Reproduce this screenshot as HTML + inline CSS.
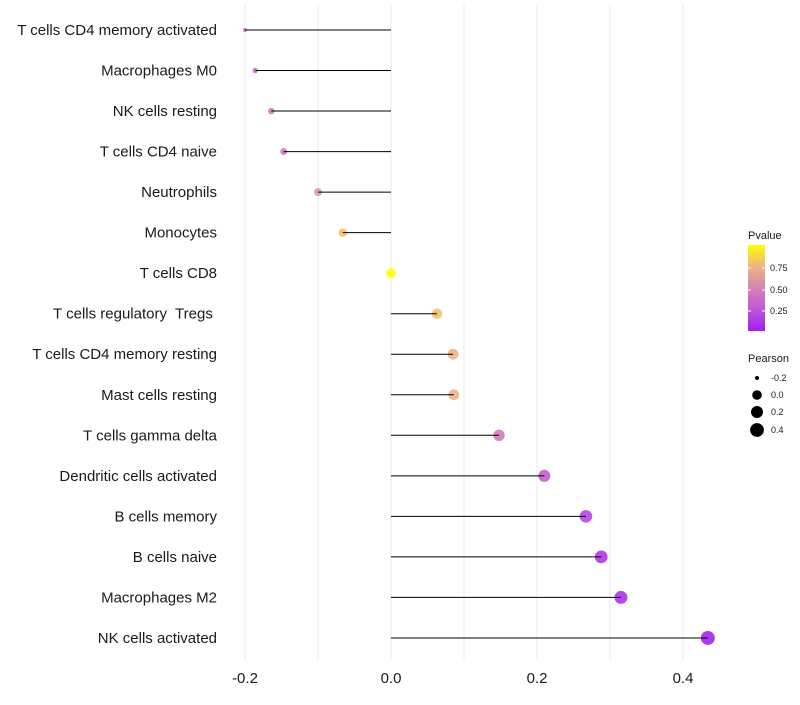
<!DOCTYPE html>
<html><head><meta charset="utf-8"><style>
body{margin:0;background:#fff;}
svg text{font-family:"Liberation Sans",sans-serif;}
</style></head><body>
<svg id="chart" width="800" height="700" xmlns="http://www.w3.org/2000/svg">
<defs><linearGradient id="pg" x1="0" y1="1" x2="0" y2="0">
<stop offset="0" stop-color="#A020F0"/><stop offset="0.25" stop-color="#C055D8"/><stop offset="0.5" stop-color="#D584B4"/><stop offset="0.75" stop-color="#EEB483"/><stop offset="1" stop-color="#FFFF00"/></linearGradient></defs>
<g id="grid"></g><g id="marks"></g><g id="labels"></g><g id="legend"></g>
</svg>
<script>
const categories=["T cells CD4 memory activated","Macrophages M0","NK cells resting","T cells CD4 naive","Neutrophils","Monocytes","T cells CD8","T cells regulatory  Tregs ","T cells CD4 memory resting","Mast cells resting","T cells gamma delta","Dendritic cells activated","B cells memory","B cells naive","Macrophages M2","NK cells activated"];
const pearson=[-0.2,-0.186,-0.164,-0.147,-0.100,-0.066,0.0,0.063,0.085,0.086,0.148,0.210,0.267,0.288,0.315,0.434];
const pvalues=[0.40,0.42,0.45,0.45,0.62,0.80,1.0,0.80,0.74,0.74,0.45,0.30,0.18,0.12,0.10,0.02];
const xTicks=[-0.2,0,0.2,0.4];
const xTickLabels=["-0.2","0.0","0.2","0.4"];
const NS="http://www.w3.org/2000/svg";
const x=v=>391+v*730;
const y=i=>30+i*40.53;
const r=v=>2+5*Math.sqrt(Math.max(0,(v+0.2)/0.634));
const stops=[[0,[160,32,240]],[0.25,[192,85,216]],[0.5,[213,132,180]],[0.75,[238,180,131]],[1,[255,255,0]]];
function col(p){p=Math.max(0,Math.min(1,p));for(let k=1;k<stops.length;k++){if(p<=stops[k][0]){const a=stops[k-1],b=stops[k],t=(p-a[0])/(b[0]-a[0]);return 'rgb('+a[1].map((c,j)=>Math.round(c+(b[1][j]-c)*t)).join(',')+')';}}return 'rgb(255,255,0)';}
function el(t,at,parent){const e=document.createElementNS(NS,t);for(const k in at)e.setAttribute(k,at[k]);document.getElementById(parent).appendChild(e);return e;}
[-0.2,-0.1,0,0.1,0.2,0.3,0.4].forEach(v=>{const g=el('line',{x1:x(v),x2:x(v),y1:5,y2:660,stroke:'#ebebeb','stroke-width':1},'grid');

});
categories.forEach((c,i)=>{
const d=el('circle',{cx:x(pearson[i]),cy:y(i),r:r(pearson[i]),fill:col(pvalues[i]),'fill-opacity':0.9},'marks');


const s=el('line',{x1:x(0),x2:x(pearson[i]),y1:y(i),y2:y(i),stroke:'#000','stroke-width':1},'marks');


const t=el('text',{x:217,y:y(i)+5,'text-anchor':'end','font-size':15,fill:'#1a1a1a'},'labels');t.textContent=c;


t.setAttribute('xml:space','preserve');t.style.whiteSpace='pre';});
xTicks.forEach((v,i)=>{const t=el('text',{x:x(v),y:683,'text-anchor':'middle','font-size':15,fill:'#1a1a1a'},'labels');t.textContent=xTickLabels[i];

});
let t=el('text',{x:748,y:239,'font-size':11,fill:'#1a1a1a'},'legend');t.textContent='Pvalue';


const bar=el('rect',{x:748,y:245,width:17,height:86,fill:'url(#pg)'},'legend');


[[0.75,268],[0.50,290],[0.25,311]].forEach(([v,yy])=>{
el('line',{x1:748,x2:751,y1:yy,y2:yy,stroke:'#fff'},'legend');el('line',{x1:762,x2:765,y1:yy,y2:yy,stroke:'#fff'},'legend');
const tt=el('text',{x:770,y:yy+3,'font-size':9,fill:'#1a1a1a'},'legend');tt.textContent=v.toFixed(2);

});
t=el('text',{x:748,y:362,'font-size':11,fill:'#1a1a1a'},'legend');t.textContent='Pearson';


[[-0.2,378,'-0.2'],[0,395,'0.0'],[0.2,412,'0.2'],[0.4,430,'0.4']].forEach(([v,yy,l])=>{
const c=el('circle',{cx:757,cy:yy,r:r(v),fill:'#000'},'legend');


const tt=el('text',{x:771,y:yy+3,'font-size':9,fill:'#1a1a1a'},'legend');tt.textContent=l;

});
</script>
</body></html>
